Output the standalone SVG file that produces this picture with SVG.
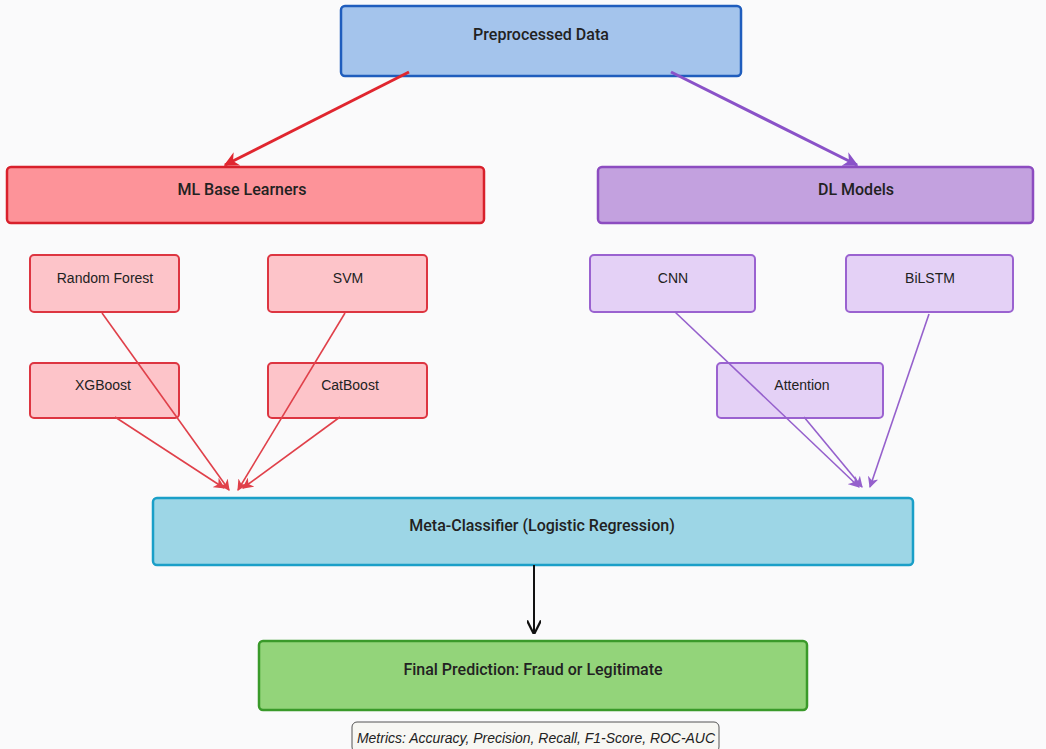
<svg xmlns="http://www.w3.org/2000/svg" width="1046" height="749" viewBox="0 0 1046 749">
<defs>
<marker id="ar" viewBox="0 0 10 10" refX="9" refY="5" markerWidth="5" markerHeight="5" orient="auto" markerUnits="strokeWidth"><path d="M0,0 L10,5 L0,10 L3,5 Z" fill="#e0262f"/></marker>
<marker id="ap" viewBox="0 0 10 10" refX="9" refY="5" markerWidth="5" markerHeight="5" orient="auto" markerUnits="strokeWidth"><path d="M0,0 L10,5 L0,10 L3,5 Z" fill="#8a52c8"/></marker>
<marker id="arl" viewBox="0 0 10 10" refX="9" refY="5" markerWidth="7" markerHeight="7" orient="auto" markerUnits="strokeWidth"><path d="M0,0 L10,5 L0,10 L3,5 Z" fill="#e0404a"/></marker>
<marker id="apl" viewBox="0 0 10 10" refX="9" refY="5" markerWidth="7" markerHeight="7" orient="auto" markerUnits="strokeWidth"><path d="M0,0 L10,5 L0,10 L3,5 Z" fill="#9560cc"/></marker>
<marker id="ak" viewBox="0 0 10 10" refX="9" refY="5" markerWidth="7" markerHeight="7" orient="auto" markerUnits="strokeWidth"><path d="M0,0 L10,5 L0,10" fill="none" stroke="#111" stroke-width="1.6"/></marker>
</defs>
<style>
text{font-family:Roboto,"Liberation Sans",sans-serif;fill:#222;text-anchor:middle;dominant-baseline:central}
.big{font-size:16px;font-weight:500}
.sm{font-size:14px;font-family:"Liberation Sans",Arial,sans-serif}
.mlh{fill:#fd9399;stroke:#d8202b;stroke-width:2.5}
.dlh{fill:#c3a1df;stroke:#8c4cc0;stroke-width:2.5}
.ml{fill:#fdc4c9;stroke:#dd3541;stroke-width:2}
.dl{fill:#e4d1f6;stroke:#9a62d0;stroke-width:2}
</style>
<rect width="1046" height="749" fill="#fafafb"/>
<g id="preprocessed"><rect x="341" y="6" width="400" height="70" rx="4" fill="#a4c4ec" stroke="#1f5dbd" stroke-width="2.5"/><text class="big" x="541" y="34">Preprocessed Data</text></g>
<g id="ml"><rect x="7" y="167" width="477" height="56" rx="4" class="mlh"/><text class="big" x="242" y="189">ML Base Learners</text></g>
<g id="dl"><rect x="598" y="167" width="435" height="56" rx="4" class="dlh"/><text class="big" x="856" y="189">DL Models</text></g>
<g id="rf"><rect x="30" y="255" width="149" height="57" rx="4" class="ml"/><text class="sm" x="105" y="278">Random Forest</text></g>
<g id="svm"><rect x="268" y="255" width="159" height="57" rx="4" class="ml"/><text class="sm" x="348" y="278">SVM</text></g>
<g id="xgb"><rect x="30" y="363" width="149" height="55" rx="4" class="ml"/><text class="sm" x="103" y="385">XGBoost</text></g>
<g id="cat"><rect x="268" y="363" width="159" height="55" rx="4" class="ml"/><text class="sm" x="350" y="385">CatBoost</text></g>
<g id="cnn"><rect x="590" y="255" width="165" height="57" rx="4" class="dl"/><text class="sm" x="673" y="278">CNN</text></g>
<g id="bilstm"><rect x="846" y="255" width="167" height="57" rx="4" class="dl"/><text class="sm" x="930" y="278">BiLSTM</text></g>
<g id="attention"><rect x="717" y="363" width="166" height="55" rx="4" class="dl"/><text class="sm" x="802" y="385">Attention</text></g>
<g id="meta"><rect x="153" y="498" width="760" height="67" rx="4" fill="#9dd6e6" stroke="#1a9fc8" stroke-width="2.5"/><text class="big" x="542" y="525">Meta-Classifier (Logistic Regression)</text></g>
<g id="final"><rect x="259" y="641" width="548" height="69" rx="4" fill="#93d47a" stroke="#3a9a2a" stroke-width="2.5"/><text class="big" x="533" y="669">Final Prediction: Fraud or Legitimate</text></g>
<g id="metrics"><rect x="352" y="722" width="367" height="30" rx="5" fill="#f7f7f3" stroke="#555" stroke-width="1"/><text x="536" y="737" textLength="358" lengthAdjust="spacingAndGlyphs" style="font-size:15px;font-style:italic;font-family:'Liberation Sans',Arial,sans-serif">Metrics: Accuracy, Precision, Recall, F1-Score, ROC-AUC</text></g>
<g id="connectors" fill="none">
<line x1="409" y1="72" x2="225" y2="165" stroke="#e0262f" stroke-width="3" marker-end="url(#ar)"/>
<line x1="671" y1="72" x2="857" y2="165" stroke="#8a52c8" stroke-width="3" marker-end="url(#ap)"/>
<line x1="102" y1="313" x2="229" y2="490" stroke="#e0404a" stroke-width="1.6" marker-end="url(#arl)"/>
<line x1="115" y1="417" x2="224" y2="488" stroke="#e0404a" stroke-width="1.6" marker-end="url(#arl)"/>
<line x1="345" y1="313" x2="238" y2="490" stroke="#e0404a" stroke-width="1.6" marker-end="url(#arl)"/>
<line x1="340" y1="417" x2="243" y2="488" stroke="#e0404a" stroke-width="1.6" marker-end="url(#arl)"/>
<line x1="675" y1="312" x2="859" y2="487" stroke="#9560cc" stroke-width="1.6" marker-end="url(#apl)"/>
<line x1="804" y1="417" x2="862" y2="487" stroke="#9560cc" stroke-width="1.6" marker-end="url(#apl)"/>
<line x1="929" y1="314" x2="870" y2="487" stroke="#9560cc" stroke-width="1.6" marker-end="url(#apl)"/>
<line x1="534" y1="565" x2="534" y2="633" stroke="#111" stroke-width="2" marker-end="url(#ak)"/>
</g>
</svg>
